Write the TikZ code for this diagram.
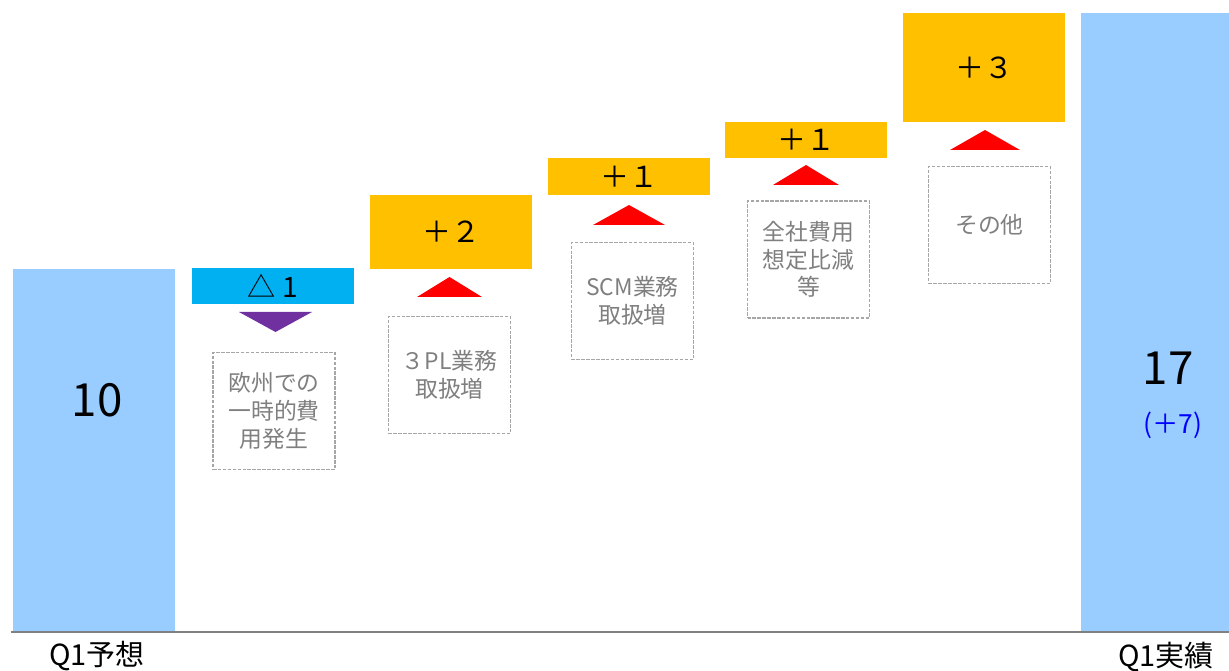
\documentclass[tikz,border=0pt]{standalone}
\usepackage{fontspec}
\setmainfont{Noto Sans CJK JP}
\definecolor{barblue}{HTML}{99CCFF}
\definecolor{negcyan}{HTML}{00B0F0}
\definecolor{posorange}{HTML}{FFC000}
\definecolor{downpurple}{HTML}{7030A0}
\definecolor{upred}{HTML}{FF0000}
\definecolor{notegray}{HTML}{7F7F7F}
\definecolor{dashgray}{HTML}{A6A6A6}
\definecolor{axisgray}{HTML}{808080}
\tikzset{
  plain/.style={inner sep=0pt, outer sep=0pt},
  barbox/.style={plain, fill=barblue},
  negbox/.style={plain, fill=negcyan, font=\fontsize{16}{18}\selectfont},
  posbox/.style={plain, fill=posorange, font=\fontsize{16.5}{18}\selectfont},
  notebox/.style={plain, draw=dashgray, line width=1.1pt, dash pattern=on 2pt off 0.8pt,
    minimum width=2.44cm, minimum height=2.34cm, text=notegray, align=center,
    font=\fontsize{13}{15.8}\selectfont},
  bignum/.style={plain, font=\fontsize{26}{28}\selectfont},
  catlabel/.style={plain, font=\fontsize{16.5}{18}\selectfont},
}
\begin{document}
\begin{tikzpicture}[x=0.02cm, y=-0.02cm]
\useasboundingbox (0,0) rectangle (1229,671);
% bars
\node[barbox, minimum width=3.24cm, minimum height=7.26cm] (q1plan) at (94,450.5) {};
\node[barbox, minimum width=2.96cm, minimum height=12.38cm] (q1act) at (1155,322.5) {};
\node[bignum] (vplan) at (97,400) {10};
\node[bignum] (vact) at (1168,368) {17};
\node[plain, text=blue, font=\fontsize{15}{17}\selectfont] (vdiff) at (1173,425) {(＋7)};
% axis
\coordinate (axl) at (11,632);
\coordinate (axr) at (1229,632);
\draw[axisgray, line width=0.8pt] (axl) -- (axr);
\node[catlabel] (lplan) at (97,656) {Q1予想};
\node[catlabel] (lact) at (1166,657) {Q1実績};
% step boxes
\node[negbox, minimum width=3.24cm, minimum height=0.72cm] (s1) at (273,286) {△ 1};
\node[posbox, minimum width=3.24cm, minimum height=1.48cm] (s2) at (451,232) {＋２};
\node[posbox, minimum width=3.24cm, minimum height=0.74cm] (s3) at (629,176.5) {＋１};
\node[posbox, minimum width=3.24cm, minimum height=0.72cm] (s4) at (806,140) {＋１};
\node[posbox, minimum width=3.24cm, minimum height=2.18cm] (s5) at (984,67.5) {＋３};
% triangles
\fill[downpurple] (239,312) -- (312,312) -- (275.5,332) -- cycle;
\fill[upred] (417,297) -- (482,297) -- (449.5,277) -- cycle;
\fill[upred] (593,225) -- (665,225) -- (629,205) -- cycle;
\fill[upred] (773,185) -- (839,185) -- (806,165) -- cycle;
\fill[upred] (950,150) -- (1020,150) -- (985,130) -- cycle;
% notes
\node[notebox] (n1) at (274,411) {欧州での\\一時的費\\用発生};
\node[notebox] (n2) at (449.5,375) {３PL業務\\取扱増};
\node[notebox] (n3) at (632.5,301) {SCM業務\\取扱増};
\node[notebox] (n4) at (808.5,259.5) {全社費用\\想定比減\\等};
\node[notebox] (n5) at (989.5,225) {その他};
\end{tikzpicture}
\end{document}
